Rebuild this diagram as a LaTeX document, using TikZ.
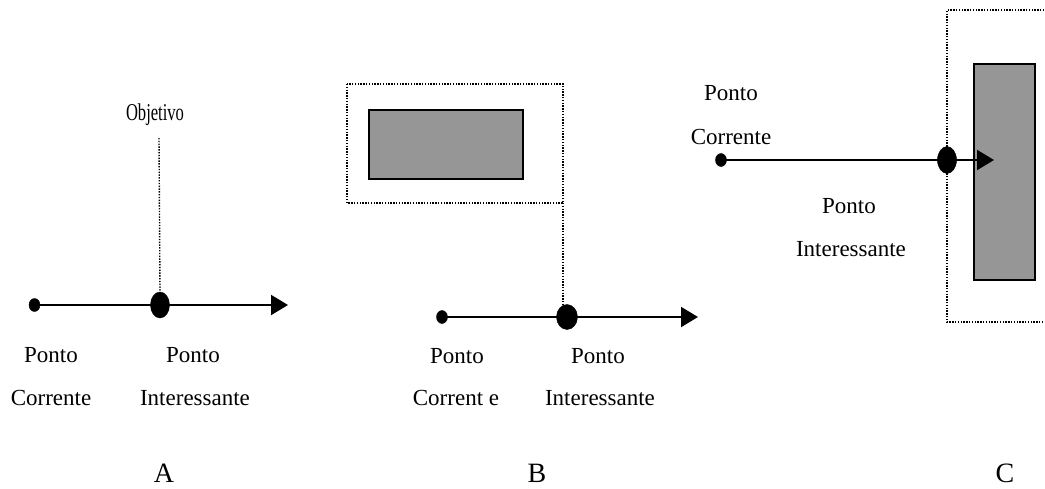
\documentclass[tikz,border=0pt]{standalone}
\usepackage{fontspec}
\setmainfont{Liberation Serif}
\usetikzlibrary{shapes.geometric,arrows.meta}
\definecolor{boxgray}{RGB}{150,150,150}
\begin{document}
\begin{tikzpicture}[x=1pt,y=-1pt,
  lbl/.style={anchor=base,inner sep=0pt,font=\fontsize{23}{27}\selectfont},
  big/.style={anchor=base,inner sep=0pt,font=\fontsize{28}{32}\selectfont},
  smalldot/.style={ellipse,draw,fill=black,inner sep=0pt,minimum width=11pt,minimum height=13pt},
  bigdot/.style={ellipse,draw,fill=black,inner sep=0pt,minimum width=19pt,minimum height=26pt},
  trail/.style={line width=2pt,-{Triangle[length=17pt,width=20pt]}},
  dots/.style={line width=1.4pt,dash pattern=on 1.4pt off 1.4pt},
  block/.style={draw,line width=1.6pt,fill=boxgray}]
\useasboundingbox (0,0) rectangle (1045,488);

% ---------- A ----------
\node[smalldot] (a1) at (34.5,305) {};
\node[bigdot] (a2) at (160,305) {};
\coordinate (aend) at (288,305);
\draw[trail] (a1.center) -- (aend);
\node[lbl] (obj) at (155,120) {\scalebox{0.72}[1.05]{Objetivo}};
\coordinate (objb) at (159,138);
\draw[dots] (objb) -- (a2.north);
\node[lbl] (ap1) at (51,362) {Ponto};
\node[lbl] (ac1) at (51,405) {Corrente};
\node[lbl] (ap2) at (193,362) {Ponto};
\node[lbl] (ai2) at (195,405) {Interessante};
\node[big] (la) at (164,482) {A};

% ---------- B ----------
\draw[dots] (347,84) rectangle (563,203);
\coordinate (bcorner) at (563,203);
\node[block,minimum width=154pt,minimum height=69pt,inner sep=0pt] (bbox) at (446,144.5) {};
\node[smalldot] (b1) at (442,317) {};
\node[bigdot,minimum width=21pt,minimum height=25pt] (b2) at (567,317) {};
\coordinate (bend) at (698,317);
\draw[trail] (b1.center) -- (bend);
\draw[dots] (bcorner) -- (bcorner |- b2.north);
\node[lbl] (bp1) at (457,363) {Ponto};
\node[lbl] (bc1) at (456,405) {Corrent e};
\node[lbl] (bp2) at (598,363) {Ponto};
\node[lbl] (bi2) at (600,405) {Interessante};
\node[big] (lb) at (537,482) {B};

% ---------- C ----------
\draw[dots] (1047,10) -- (947,10) -- (947,322) -- (1047,322);
\node[block,minimum width=61pt,minimum height=216pt,inner sep=0pt] (cbox) at (1004.5,172) {};
\node[smalldot] (c1) at (721,160) {};
\node[bigdot,minimum width=19pt,minimum height=27pt] (c2) at (947,160) {};
\coordinate (cend) at (994,160);
\draw[trail] (c1.center) -- (cend);
\node[lbl] (cp1) at (731,100) {Ponto};
\node[lbl] (cc1) at (731,144) {Corrente};
\node[lbl] (cp2) at (849,213) {Ponto};
\node[lbl] (ci2) at (851,256) {Interessante};
\node[big] (lc) at (1005,482) {C};
\end{tikzpicture}
\end{document}
